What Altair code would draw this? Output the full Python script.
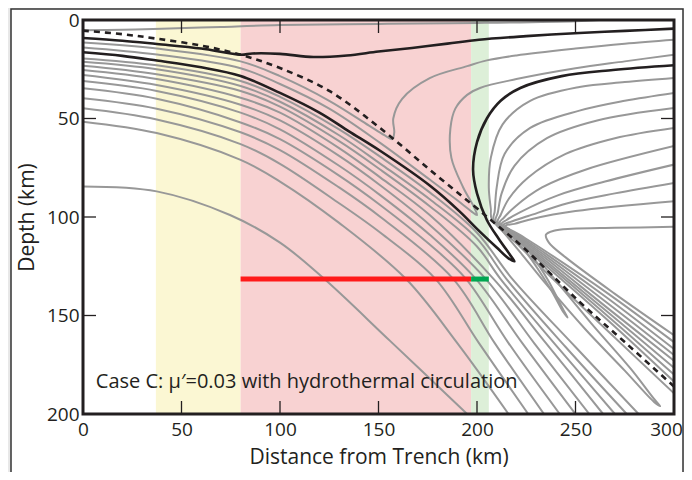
import altair as alt
import pandas as pd

# ---------------- data (km) ----------------
band_start = [37, 80, 197]
band_end = [80, 197, 206]
band_color = ["#FBF7D3", "#F8D2D2", "#DDEFD8"]

seg_start = [80, 197]
seg_end = [197, 206]
seg_depth = [131.5, 131.5]
seg_color = ["#FF1A1A", "#00A651"]

x_ticks = [0, 50, 100, 150, 200, 250, 300]
y_ticks = [0, 50, 100, 150, 200]
inner_x_ticks = [50, 100, 150, 200, 250]
inner_y_ticks = [50, 100, 150]

label_text = ["Case C: \u03bc\u2032=0.03 with hydrothermal circulation"]
label_x = [6.5]
label_y = [187]

# slab top (dashed)
slab_top = [(0, 5.4), (20, 7.2), (37.5, 9.5), (60, 13), (80, 17.6), (100, 24.4), (125, 36),
            (151, 55), (176, 76), (198, 94), (210, 104), (223, 115), (252, 143), (275, 163.5), (300, 186)]

# black contours
black1 = [(0, 9.1), (20, 10.5), (37.5, 12.2), (60, 14.5), (80, 17.6), (86, 17), (100, 17.2), (117, 18.8),
          (134, 18), (150, 16), (167, 14.2), (185, 12), (201, 10), (225, 8.2), (252, 6.6), (275, 5.5), (300, 4.4)]
black2 = [(0, 16.4), (20, 18.2), (37.5, 20.6), (60, 24), (80, 28.4), (100, 37), (120, 47), (135, 56.5),
          (151, 66.5), (176, 84), (191, 97), (200, 106), (210, 115.5), (216, 121), (219, 122.5), (217, 119.5),
          (211, 111), (205, 101.5), (200, 88), (198, 76), (200, 62), (205, 50), (212, 41), (222, 34.5),
          (243, 28.5), (269, 25.4), (300, 23)]

# gray contours
g_top = [(0, 5.2), (20, 5), (40, 4.5), (70, 3.5), (100, 2.6), (150, 2), (200, 1.5), (250, 0.6), (262, 0)]
w1 = [(0, 11.4), (37.5, 14.5), (80, 21), (100, 28.5), (125, 41), (145, 53.5), (153, 58.5), (157, 60.5),
      (158, 57), (157.5, 50), (162, 40), (176, 29.5), (195, 23.4), (205, 20.5), (220, 18), (250, 14.5),
      (275, 12), (300, 10)]
w2 = [(0, 13.9), (37.5, 17.5), (80, 24.5), (100, 32.5), (125, 45), (151, 62.5), (176, 81), (190, 91.5),
      (197, 97), (200, 99), (198.5, 95), (193, 85), (187, 70), (186.5, 55), (189, 45), (195, 38),
      (201.5, 34.5), (220, 30), (250, 24.5), (275, 21), (300, 17.6)]
l2 = [(0, 19.5), (37.4, 23), (80, 31), (100, 39), (130, 55.5), (151, 69.5), (176, 87.5), (200, 108), (218, 131.5), (250, 166), (282, 200)]
l3 = [(0, 21.2), (37.4, 25), (80, 33.5), (100, 41.5), (130, 58.5), (151, 73), (176, 91), (200, 111), (215, 131.5), (245, 166), (276, 200)]
l4 = [(0, 23.2), (37.4, 27.5), (80, 36), (100, 44), (130, 61.5), (151, 76), (176, 94.5), (200, 115), (212, 131.5), (240, 165), (270, 200)]
l5 = [(0, 25.4), (37.4, 30), (80, 39.5), (100, 47), (130, 65), (151, 80), (176, 99), (208.5, 131.5), (235, 164), (264, 200)]
l6 = [(0, 27.9), (37.4, 33), (80, 43), (100, 51), (130, 69), (151, 84), (176, 104), (204.5, 131.5), (229, 164), (257, 200)]
l7 = [(0, 31), (37.4, 36), (80, 47), (100, 55.5), (130, 74), (151, 89), (176, 109), (199.5, 131.5), (223, 164), (250, 200)]
l8 = [(0, 34.7), (37.4, 40), (80, 52), (100, 60.5), (130, 79), (151, 94), (176, 114), (194.5, 131.5), (216, 164), (242, 200)]
l9 = [(0, 39.7), (37.4, 45), (80, 57), (100, 66), (130, 85), (151, 100), (188, 131.5), (209, 164), (234, 200)]
l10 = [(0, 44.8), (37.4, 50.5), (80, 63), (100, 73), (130, 93), (151, 108), (179, 131.5), (201, 164), (226, 200)]
l11 = [(0, 51.6), (37.4, 57.4), (80, 71), (100, 82), (130, 103), (164, 131.5), (190, 164), (216, 200)]
l12 = [(0, 84.5), (37.4, 87), (74.6, 99), (100, 113), (122, 131), (156, 163), (195, 200)]

f1 = [(300, 29.4), (275, 31.5), (252, 34), (227, 41), (213, 53), (207, 70), (206, 85), (207, 96), (207.5, 101),
      (222, 115.2), (235, 128), (266, 157.5), (300, 189.5)]
f2 = [(300, 37), (275, 41), (252, 46), (227, 54.8), (214, 68), (210, 85), (209, 97), (208.5, 101.5),
      (222, 113.2), (235, 124.7), (266, 152), (300, 183.5)]
f3 = [(300, 44.7), (261, 51), (235.5, 60), (219, 74), (212.5, 88), (210.5, 98), (209.5, 102),
      (222, 112.6), (235, 123.5), (266, 150), (300, 180)]
f4 = [(300, 54.8), (270, 60), (245, 68), (226, 80), (216, 91), (212, 99), (210.5, 102.5),
      (222, 111.9), (235, 122.3), (266, 148), (300, 176.5)]
f5 = [(300, 64), (255, 76), (233, 85), (219, 95), (213.5, 100.5), (211.5, 103),
      (222, 111.2), (235, 121.1), (266, 146), (300, 173)]
f6 = [(300, 73.4), (265, 82), (241, 89), (222, 97.5), (215, 101.5), (212.5, 103.5),
      (222, 110.6), (235, 119.9), (266, 143.5), (300, 170)]
f7 = [(300, 82.7), (270, 88), (246, 93), (226, 99.5), (217, 102.5), (213.5, 104),
      (222, 109.9), (235, 118.7), (266, 141), (300, 167)]
f8 = [(300, 92), (250, 97), (228, 101), (219, 103.5), (214.5, 104.5),
      (222, 109.2), (235, 117.5), (266, 138.5), (300, 163.5)]
hair_a = [(300, 105), (270, 105.5), (248, 106), (239, 107), (235, 109), (236.5, 113), (245, 120.5), (270, 139), (300, 160)]
hair_b = [(213, 104.5), (225, 118), (237, 136), (244, 148.5), (246, 151), (244, 147.5), (236, 132), (226, 117), (216, 106)]
hair_c = [(212, 106), (222, 118), (235, 134), (255, 157), (275, 178), (290, 194), (293, 196), (290, 192.5),
          (278, 177), (258, 154), (239, 131), (228, 118), (218, 108)]

gray_lines = {"g_top": g_top, "w1": w1, "w2": w2, "l2": l2, "l3": l3, "l4": l4, "l5": l5, "l6": l6,
              "l7": l7, "l8": l8, "l9": l9, "l10": l10, "l11": l11, "l12": l12, "f1": f1, "f2": f2,
              "f3": f3, "f4": f4, "f5": f5, "f6": f6, "f7": f7, "f8": f8, "hair_a": hair_a,
              "hair_b": hair_b, "hair_c": hair_c}
black_lines = {"black1": black1, "black2": black2}
dashed_lines = {"slab_top": slab_top}


def to_df(lines):
    rows = []
    for name, pts in lines.items():
        for i, (x, y) in enumerate(pts):
            rows.append({"line": name, "seq": i, "x": x, "y": y})
    return pd.DataFrame(rows)


W, H = 591, 394
INK = "#231f20"
FONT = "Open Sans"

xscale = alt.Scale(domain=[0, 300], nice=False, zero=False)
yscale = alt.Scale(domain=[0, 200], reverse=True, nice=False, zero=False)
xaxis = alt.Axis(values=x_ticks, ticks=False, tickSize=0, domain=False, grid=False, labelFlush=False,
                 labelOverlap=False, labelFont=FONT, labelFontSize=19, labelColor=INK, labelPadding=6,
                 labelOffset={"condition": {"test": "datum.value == 300", "value": -8}, "value": 0},
                 title="Distance from Trench (km)", titleFont=FONT, titleFontSize=21, titleFontWeight="normal",
                 titleColor=INK, titlePadding=7, zindex=1)
yaxis = alt.Axis(values=y_ticks, ticks=False, tickSize=0, domain=False, grid=False, labelFlush=False,
                 labelOverlap=False, labelFont=FONT, labelFontSize=19, labelColor=INK, labelPadding=4,
                 title="Depth (km)", titleFont=FONT, titleFontSize=21, titleFontWeight="normal",
                 titleColor=INK, titlePadding=9, zindex=1)


def X(field, **kw):
    return alt.X(field, scale=xscale, axis=xaxis, **kw)


def Y(field, **kw):
    return alt.Y(field, scale=yscale, axis=yaxis, **kw)


one = pd.DataFrame({"a": [0]})
frame = alt.Chart(one).mark_rect(fill="white", stroke="#333333", strokeWidth=1.5).encode(
    x=alt.value(-72), x2=alt.value(600), y=alt.value(-11), y2=alt.value(470))
border = alt.Chart(one).mark_rect(fill="transparent", stroke=INK, strokeWidth=3).encode(
    x=alt.value(0), x2=alt.value(W), y=alt.value(0), y2=alt.value(H))

bands_df = pd.DataFrame({"x0": band_start, "x1": band_end, "c": band_color})
bands = alt.Chart(bands_df).mark_rect().encode(
    x=X("x0:Q"), x2="x1:Q", y=alt.value(0), y2=alt.value(H),
    color=alt.Color("c:N", scale=None))

gray = alt.Chart(to_df(gray_lines)).mark_line(
    color="#989898", strokeWidth=2, interpolate="catmull-rom", clip=True).encode(
    x=X("x:Q"), y=Y("y:Q"), detail="line:N", order="seq:Q")
black = alt.Chart(to_df(black_lines)).mark_line(
    color=INK, strokeWidth=2.6, interpolate="catmull-rom", clip=True).encode(
    x=X("x:Q"), y=Y("y:Q"), detail="line:N", order="seq:Q")
dashed = alt.Chart(to_df(dashed_lines)).mark_line(
    color=INK, strokeWidth=2.6, strokeDash=[6, 5], interpolate="catmull-rom", clip=True).encode(
    x=X("x:Q"), y=Y("y:Q"), detail="line:N", order="seq:Q")

seg_df = pd.DataFrame({"x0": seg_start, "x1": seg_end, "d": seg_depth, "c": seg_color})
segs = alt.Chart(seg_df).mark_rule(strokeWidth=5).encode(
    x=X("x0:Q"), x2="x1:Q", y=Y("d:Q"), color=alt.Color("c:N", scale=None))

tx = pd.DataFrame({"t": inner_x_ticks})
ty = pd.DataFrame({"t": inner_y_ticks})
tick_style = dict(color=INK, strokeWidth=1.3)
t_bottom = alt.Chart(tx).mark_rule(**tick_style).encode(x=X("t:Q"), y=alt.value(H), y2=alt.value(H - 13))
t_top = alt.Chart(tx).mark_rule(**tick_style).encode(x=X("t:Q"), y=alt.value(0), y2=alt.value(13))
t_left = alt.Chart(ty).mark_rule(**tick_style).encode(y=Y("t:Q"), x=alt.value(0), x2=alt.value(13))
t_right = alt.Chart(ty).mark_rule(**tick_style).encode(y=Y("t:Q"), x=alt.value(W), x2=alt.value(W - 13))

txt_df = pd.DataFrame({"x": label_x, "y": label_y, "s": label_text})
txt = alt.Chart(txt_df).mark_text(align="left", baseline="alphabetic", font=FONT, fontSize=20,
                                  color=INK).encode(x=X("x:Q"), y=Y("y:Q"), text="s:N")

chart = alt.layer(frame, bands, gray, black, dashed, segs, t_bottom, t_top, t_left, t_right, txt,
                  border).properties(
    width=W, height=H, autosize=alt.AutoSizeParams(type="none"),
    padding={"left": 75, "top": 12, "right": 10, "bottom": 58},
    background="#e8e8e8",
).configure_view(stroke=None)

chart.save("out.html", embed_options={"renderer": "svg", "actions": False})
